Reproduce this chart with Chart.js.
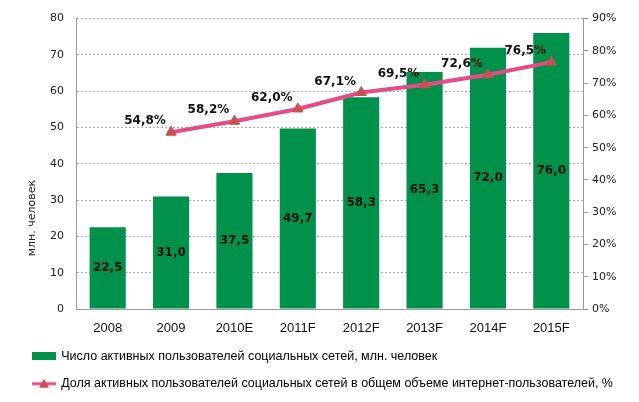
<!DOCTYPE html>
<html>
<head>
<meta charset="utf-8">
<script src="https://cdn.jsdelivr.net/npm/chart.js@4.4.1/dist/chart.umd.min.js"></script>
<style>
  html, body { margin: 0; padding: 0; background: #fff; }
  #wrap { width: 639px; height: 402px; }
</style>
</head>
<body>
<div id="wrap"><canvas id="chart" width="639" height="402"></canvas></div>
<script>
// данные графика
const years = ['2008', '2009', '2010E', '2011F', '2012F', '2013F', '2014F', '2015F'];
const usersMln = [22.5, 31.0, 37.5, 49.7, 58.3, 65.3, 72.0, 76.0];
const sharePct = [null, 54.8, 58.2, 62.0, 67.1, 69.5, 72.6, 76.5];
const leftTicks = [0, 10, 20, 30, 40, 50, 60, 70, 80];
const rightTicks = [0, 10, 20, 30, 40, 50, 60, 70, 80, 90];

const barLabel = 'Число активных пользователей социальных сетей, млн. человек';
const lineLabel = 'Доля активных пользователей социальных сетей в общем объеме интернет-пользователей, %';
const yTitle = 'млн. человек';

const GREEN = '#00914A';
const PINK = '#E44C86';
const MARKER = '#C8504F';
const narrow = "'Liberation Sans Narrow', 'Arial Narrow', 'Liberation Sans', sans-serif";
const verd = "'DejaVu Sans', Verdana, sans-serif";

const fmt = v => v.toFixed(1).replace('.', ',');

// картинки для легенды
function legendBox() {
    const c = document.createElement('canvas');
    c.width = 24; c.height = 8;
    const g = c.getContext('2d');
    g.fillStyle = GREEN;
    g.fillRect(0, 0, 24, 8);
    return c;
}
function legendLine() {
    const c = document.createElement('canvas');
    c.width = 24; c.height = 12;
    const g = c.getContext('2d');
    g.strokeStyle = PINK; g.lineWidth = 3;
    g.beginPath(); g.moveTo(0, 6); g.lineTo(24, 6); g.stroke();
    g.fillStyle = MARKER;
    g.beginPath(); g.moveTo(12, 1); g.lineTo(17, 10); g.lineTo(7, 10); g.closePath(); g.fill();
    return c;
}

const labelsPlugin = {
    id: 'valueLabels',
    afterDatasetsDraw(chart) {
        const ctx = chart.ctx;
        ctx.save();
        ctx.font = 'bold 12px ' + verd;
        ctx.textAlign = 'center';
        ctx.textBaseline = 'middle';
        ctx.fillStyle = '#111';
        chart.getDatasetMeta(1).data.forEach((el, i) => {
            ctx.fillText(fmt(usersMln[i]), el.x, (el.y + el.base) / 2);
        });
        chart.getDatasetMeta(0).data.forEach((el, i) => {
            if (sharePct[i] == null) return;
            ctx.fillText(fmt(sharePct[i]) + '%', el.x - 26, el.y - 11);
        });
        ctx.restore();
    },
    afterDraw(chart) {
        const ctx = chart.ctx;
        ctx.save();
        ctx.font = '11px ' + verd;
        ctx.fillStyle = '#222';
        ctx.textAlign = 'center';
        ctx.textBaseline = 'middle';
        ctx.translate(32, 218);
        ctx.rotate(-Math.PI / 2);
        ctx.fillText(yTitle, 0, 0);
        ctx.restore();
    }
};

new Chart(document.getElementById('chart'), {
    data: {
        labels: years,
        datasets: [
            {
                type: 'line',
                label: lineLabel,
                data: sharePct,
                yAxisID: 'yR',
                borderColor: PINK,
                borderWidth: 4,
                pointStyle: 'triangle',
                pointRadius: 6,
                pointBackgroundColor: MARKER,
                pointBorderColor: MARKER,
                pointBorderWidth: 1,
                tension: 0,
                order: 0
            },
            {
                type: 'bar',
                label: barLabel,
                data: usersMln,
                yAxisID: 'y',
                backgroundColor: GREEN,
                categoryPercentage: 1,
                barPercentage: 0.57,
                order: 1
            }
        ]
    },
    options: {
        responsive: false,
        animation: false,
        layout: { padding: { left: 18, right: 0, top: 14, bottom: 2 } },
        plugins: {
            tooltip: { enabled: false },
            legend: {
                position: 'bottom',
                align: 'start',
                labels: {
                    usePointStyle: true,
                    pointStyleWidth: 22,
                    padding: 15,
                    color: '#000',
                    font: { family: narrow, size: 12.5 },
                    generateLabels(chart) {
                        return [
                            { text: barLabel, pointStyle: legendBox(), datasetIndex: 1, fontColor: '#000', lineWidth: 0, strokeStyle: 'transparent', fillStyle: GREEN },
                            { text: lineLabel, pointStyle: legendLine(), datasetIndex: 0, fontColor: '#000', lineWidth: 0, strokeStyle: 'transparent', fillStyle: PINK }
                        ];
                    }
                }
            }
        },
        scales: {
            x: {
                grid: { display: false, drawTicks: false },
                border: { color: '#999' },
                ticks: { color: '#111', padding: 12, font: { family: narrow, size: 13 } },
                afterFit(s) { s.height = 26; }
            },
            y: {
                position: 'left',
                min: leftTicks[0],
                max: leftTicks[leftTicks.length - 1],
                afterBuildTicks(s) { s.ticks = leftTicks.map(v => ({ value: v })); },
                grid: { color: '#B0B0B0', drawTicks: false, lineWidth: 1 },
                border: { color: '#999', dash: [2, 2] },
                ticks: { color: '#222', padding: 12, font: { family: verd, size: 11 } },
                afterFit(s) { s.width = 58; }
            },
            yR: {
                position: 'right',
                min: rightTicks[0],
                max: rightTicks[rightTicks.length - 1],
                afterBuildTicks(s) { s.ticks = rightTicks.map(v => ({ value: v })); },
                grid: { drawOnChartArea: false, color: '#999', tickLength: 5 },
                border: { color: '#999' },
                ticks: { color: '#222', padding: 4, font: { family: verd, size: 11 }, callback: v => v + '%' },
                afterFit(s) { s.width = 56; }
            }
        }
    },
    plugins: [labelsPlugin]
});
</script>
</body>
</html>
